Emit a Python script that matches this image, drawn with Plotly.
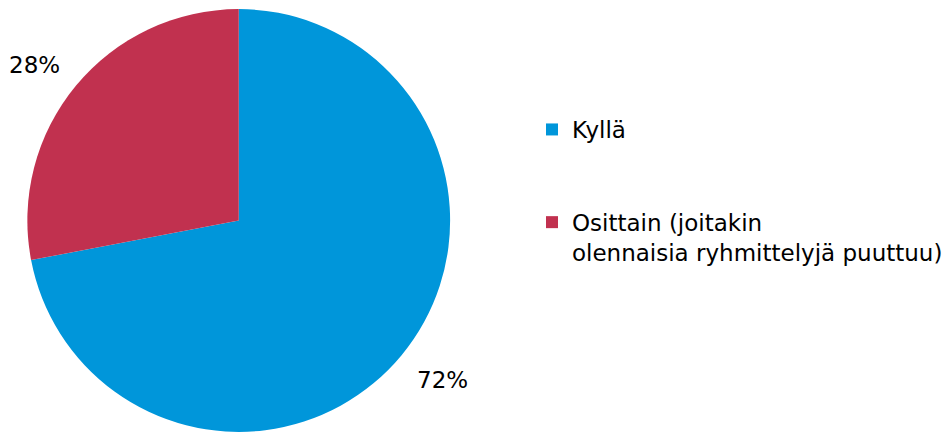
import math
import plotly.graph_objects as go

labels = ["Kyllä<br> <br> ", "Osittain (joitakin<br>olennaisia ryhmittelyjä puuttuu)"]
values = [72, 28]
colors = ["#0096DA", "#C1314F"]

W, H = 948, 433
mt = 8
ph = H - mt
cx, cy = 240.0, mt + ph / 2.0      # pie centre in pixels
rad = ph / 2.0
label_r = 230.0                    # distance of label box corner from centre

fig = go.Figure(go.Pie(
    labels=labels,
    values=values,
    sort=False,
    direction="clockwise",
    rotation=0,
    marker=dict(colors=colors, line=dict(width=0)),
    textinfo="none",
    domain=dict(x=[(cx - rad) / W, (cx + rad) / W], y=[0, 1]),
    hoverinfo="label+percent",
))

# percentage labels placed outside, at the middle angle of each slice
total = sum(values)
cum = 0.0
for v in values:
    mid = (cum + v / 2.0) / total * 2 * math.pi
    cum += v
    s, c = math.sin(mid), math.cos(mid)
    px = cx + label_r * s
    py = cy - label_r * c
    below = c < 0
    fig.add_annotation(
        x=px / W, y=1 - (py - mt) / ph, xref="paper", yref="paper",
        text=f"{round(v / total * 100)}%", showarrow=False,
        xanchor="left" if s > 0 else "right",
        yanchor="top" if below else "bottom",
        yshift=2 if below else -6,
        font=dict(family="DejaVu Sans", size=23, color="#000000"),
    )

fig.update_layout(
    width=W, height=H,
    margin=dict(l=0, r=0, t=mt, b=0),
    paper_bgcolor="white",
    plot_bgcolor="white",
    showlegend=True,
    legend=dict(
        x=535 / W, xanchor="left",
        y=1 - (108 - mt) / ph, yanchor="top",
        font=dict(family="DejaVu Sans", size=23, color="#000000"),
        valign="top",
        bgcolor="rgba(0,0,0,0)",
        traceorder="normal",
    ),
)

fig.write_html("out.html")
